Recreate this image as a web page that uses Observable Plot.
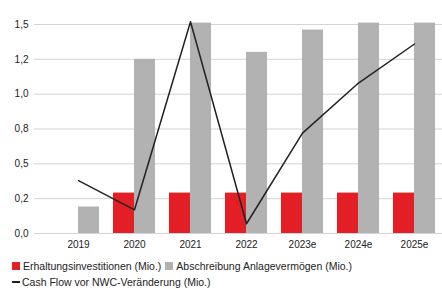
<!DOCTYPE html>
<html>
<head>
<meta charset="utf-8">
<script src="https://cdn.jsdelivr.net/npm/d3@7"></script>
<script src="https://cdn.jsdelivr.net/npm/@observablehq/plot@0.6"></script>
<style>
  html, body { margin: 0; padding: 0; background: #fff; }
  body { width: 442px; height: 289px; overflow: hidden; position: relative; font-family: "Liberation Sans", Arial, sans-serif; }
  #chart svg { display: block; }
  .legend { position: absolute; left: 12px; top: 258px; font-size: 10.5px; color: #222; }
  .legend .row { display: flex; align-items: center; height: 16px; line-height: 12px; white-space: nowrap; }
  .legend .item { display: inline-flex; align-items: center; margin-right: 4px; }
  .sw { display: inline-block; width: 8px; height: 8px; margin-right: 3px; }
  .ln { display: inline-block; width: 8px; height: 2px; background: #222; margin-right: 2px; }
</style>
</head>
<body>
<div id="chart"></div>
<script>
const years = ["2019", "2020", "2021", "2022", "2023e", "2024e", "2025e"];
const erhaltung = [null, 0.29, 0.29, 0.29, 0.29, 0.29, 0.29];
const abschreibung = [0.19, 1.25, 1.51, 1.30, 1.46, 1.51, 1.51];
const cashflow = [0.38, 0.17, 1.52, 0.07, 0.72, 1.08, 1.36];
const yTicks = [0, 0.25, 0.5, 0.75, 1.0, 1.25, 1.5];
const yLabels = ["0,0", "0,2", "0,5", "0,8", "1,0", "1,2", "1,5"];
const seriesNames = ["Erhaltungsinvestitionen (Mio.)", "Abschreibung Anlagevermögen (Mio.)", "Cash Flow vor NWC-Veränderung (Mio.)"];
const colors = ["#e31e24", "#b2b2b2", "#222222"];

const redData = years.map((y, i) => ({year: y, v: erhaltung[i]})).filter(d => d.v != null);
const grayData = years.map((y, i) => ({year: y, v: abschreibung[i]}));
const lineData = years.map((y, i) => ({year: y, v: cashflow[i]}));

const plot = Plot.plot({
  width: 442,
  height: 256,
  marginLeft: 34,
  marginRight: 0,
  marginTop: 24,
  marginBottom: 23,
  style: {fontFamily: "'Liberation Sans', Arial, sans-serif", fontSize: "10px", color: "#222"},
  x: {domain: years, range: [47.75, 443.25], paddingInner: 0.257, paddingOuter: 0.1285, label: null, tickSize: 0, tickPadding: 7},
  y: {domain: [0, 1.5], ticks: yTicks, tickFormat: d => yLabels[yTicks.indexOf(d)], label: null, tickSize: 0, tickPadding: 6},
  marks: [
    Plot.ruleY(yTicks, {stroke: "#d4d4d4", strokeWidth: 1}),
    Plot.barY(redData, {x: "year", y: "v", fill: colors[0], insetRight: 21}),
    Plot.barY(grayData, {x: "year", y: "v", fill: colors[1], insetLeft: 21}),
    Plot.lineY(lineData, {x: "year", y: "v", stroke: colors[2], strokeWidth: 1.5})
  ]
});
document.getElementById("chart").appendChild(plot);

const legend = document.createElement("div");
legend.className = "legend";
legend.innerHTML =
  `<div class="row"><span class="item"><span class="sw" style="background:${colors[0]}"></span>${seriesNames[0]}</span>` +
  `<span class="item"><span class="sw" style="background:${colors[1]}"></span>${seriesNames[1]}</span></div>` +
  `<div class="row"><span class="item"><span class="ln"></span>${seriesNames[2]}</span></div>`;
document.body.appendChild(legend);
</script>
</body>
</html>
